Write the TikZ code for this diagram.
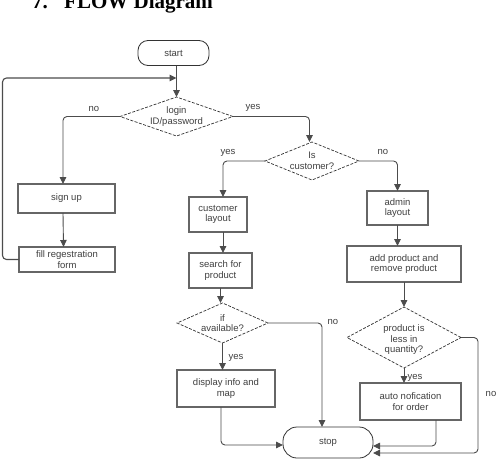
\documentclass[tikz,border=0pt]{standalone}
\usepackage{fontspec}
\setmainfont{Liberation Sans}
\newfontfamily\titlefont{Liberation Serif}
\usetikzlibrary{arrows.meta,shapes.geometric}
\begin{document}
\begin{tikzpicture}[x=1pt,y=-1pt,
  txt/.style={font=\fontsize{9.5}{10.5}\selectfont, text=black!75, align=center, inner sep=0pt},
  box/.style={draw=black!60, line width=1.2pt, inner sep=0pt, outer sep=0pt, txt},
  term/.style={draw=black!80, line width=0.8pt, inner sep=0pt, outer sep=0pt, txt},
  dia/.style={diamond, draw=black!80, line width=0.7pt, dash pattern=on 3pt off 1.5pt, inner sep=0pt, outer sep=0pt},
  conn/.style={draw=black!70, line width=0.9pt, rounded corners=4pt},
  arr/.style={conn, -{Triangle[length=7pt,width=6.5pt]}},
  ttl/.style={font=\titlefont\bfseries\fontsize{21}{24}\selectfont, inner sep=0pt, anchor=base west}
]
\useasboundingbox (0,0) rectangle (499,466);
\fill[white] (0,0) rectangle (499,466);

% title (cut off at the top edge, as in the reference)
\node[ttl] (num) at (32,8) {7.};
\node[ttl] (title) at (64,8) {FLOW Diagram};

% terminals
\node[term, rounded corners=10pt, minimum width=71pt, minimum height=25pt] (start) at (173.5,53) {start};
\node[term, rounded corners=14pt, minimum width=90pt, minimum height=31pt] (stop) at (328,442.5) {stop};

% decisions
\node[dia, minimum width=113pt, minimum height=39pt] (login) at (176.5,116.5) {};
\node[txt] (logint) at (login) {login\\ID/password};
\node[dia, minimum width=94pt, minimum height=38pt] (iscust) at (312,161) {};
\node[txt] (iscustt) at (iscust) {Is\\customer?};
\node[dia, minimum width=91pt, minimum height=40pt] (avail) at (222.5,323) {};
\node[txt] (availt) at (avail) {if\\available?};
\node[dia, minimum width=114pt, minimum height=61pt] (qty) at (404,337.5) {};
\node[txt] (qtyt) at (404,340) {product is\\less in\\quantity?};

% processes
\node[box, minimum width=97pt, minimum height=29pt] (signup) at (66.5,198.5) {sign up};
\node[box, minimum width=96pt, minimum height=25pt] (fill) at (67,259.5) {fill regestration\\form};
\node[box, minimum width=58pt, minimum height=35pt] (clayout) at (218,214.5) {customer\\layout};
\node[box, minimum width=63pt, minimum height=35pt] (search) at (220.5,270.5) {search for\\product};
\node[box, minimum width=98pt, minimum height=37pt] (display) at (226,388.5) {display info and\\map};
\node[box, minimum width=61pt, minimum height=34pt] (admin) at (397.5,208) {admin\\layout};
\node[box, minimum width=114pt, minimum height=36pt] (addp) at (404,264) {add product and\\remove product};
\node[box, minimum width=101pt, minimum height=37pt] (auto) at (410.5,401.5) {auto nofication\\for order};

% helper coordinates
\coordinate (loopin) at (176.5,78);
\coordinate (loopl) at (2.5,78);
\coordinate (qtyr) at (478,453);

% connectors
\draw[conn] (login.north |- start.south) -- (login.north |- loopin);
\draw[arr] (loopin) -- (login.north);
\draw[arr, line width=1.1pt] (fill.west) -| (loopl) -- (loopin);
\draw[arr] (login.west) -| ([xshift=-3.5pt]signup.north);
\draw[arr] ([xshift=-3.5pt]signup.south) -- ([xshift=-3.5pt]fill.north);
\draw[arr] (login.east) -| ([xshift=-2.5pt]iscust.north);
\draw[arr] (iscust.west) -| ([xshift=5pt]clayout.north);
\draw[arr] (iscust.east) -| (admin.north);
\draw[arr] ([xshift=5pt]clayout.south) -- ([xshift=2.5pt]search.north);
\draw[arr] (search.south) -- (search.south |- avail.north);
\draw[arr] (avail.south) -- (avail.south |- display.north);
\draw[arr] (avail.east) -| ([xshift=-6pt]stop.north);
\draw[arr] ([xshift=-5pt]display.south) |- ([yshift=-2.5pt]stop.west);
\draw[arr] (admin.south) -- (admin.south |- addp.north);
\draw[arr] (addp.south) -- (qty.north);
\draw[arr] (qty.south) -- (qty.south |- auto.north);
\draw[arr] ([xshift=25.5pt]auto.south) |- ([yshift=-3.5pt]stop.east);
\draw[arr] (qty.east) -| (qtyr) -- (stop.east |- qtyr);

% labels
\node[txt] (l1) at (94,109) {no};
\node[txt] (l2) at (253,108) {yes};
\node[txt] (l3) at (228,153) {yes};
\node[txt] (l4) at (383,152) {no};
\node[txt] (l5) at (236,358) {yes};
\node[txt] (l6) at (333,322) {no};
\node[txt] (l7) at (415,378) {yes};
\node[txt] (l8) at (491,394) {no};
\end{tikzpicture}
\end{document}
